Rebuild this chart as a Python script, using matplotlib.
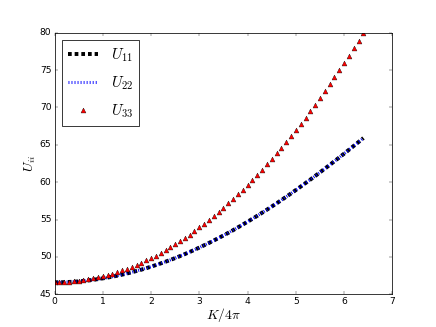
import matplotlib
matplotlib.use("Agg")
import matplotlib.pyplot as plt

plt.style.use("classic")
plt.rcParams["lines.scale_dashes"] = False

x = [round(0.1 * i, 1) for i in range(65)]

u11 = [46.60, 46.61, 46.62, 46.65, 46.68, 46.73, 46.79, 46.86, 46.94, 47.03,
       47.13, 47.24, 47.36, 47.49, 47.63, 47.78, 47.95, 48.12, 48.30, 48.49,
       48.70, 48.91, 49.13, 49.36, 49.60, 49.85, 50.11, 50.38, 50.66, 50.95,
       51.25, 51.56, 51.87, 52.20, 52.53, 52.87, 53.22, 53.58, 53.95, 54.33,
       54.71, 55.10, 55.50, 55.91, 56.32, 56.74, 57.17, 57.60, 58.05, 58.49,
       58.95, 59.41, 59.88, 60.35, 60.83, 61.32, 61.81, 62.30, 62.81, 63.31,
       63.82, 64.34, 64.86, 65.38, 65.91]
u22 = list(u11)
u33 = [46.60, 46.61, 46.63, 46.67, 46.73, 46.80, 46.89, 47.00, 47.12, 47.26,
       47.42, 47.59, 47.77, 47.98, 48.20, 48.43, 48.69, 48.96, 49.24, 49.54,
       49.86, 50.19, 50.54, 50.91, 51.29, 51.69, 52.11, 52.54, 52.99, 53.45,
       53.94, 54.43, 54.95, 55.48, 56.02, 56.58, 57.16, 57.76, 58.37, 59.00,
       59.64, 60.30, 60.98, 61.67, 62.38, 63.10, 63.85, 64.60, 65.38, 66.17,
       66.98, 67.80, 68.64, 69.49, 70.37, 71.25, 72.16, 73.08, 74.02, 74.97,
       75.94, 76.93, 77.93, 78.95, 79.98]

labels = [r"$U_{11}$", r"$U_{22}$", r"$U_{33}$"]

fig = plt.figure(figsize=(8, 6), dpi=54.5, facecolor="white")
ax = fig.add_subplot(111)
ax.plot(x, u11, color="black", linewidth=5.2, dashes=(4.9, 3.9), label=labels[0])
ax.plot(x, u22, color="blue", linewidth=4, dashes=(1.2, 2.8), label=labels[1])
ax.plot(x, u33, linestyle="none", marker="^", markersize=6.5, markerfacecolor="red",
        markeredgecolor="black", markeredgewidth=0.5, label=labels[2])

ax.set_xlim(0, 7)
ax.set_ylim(45, 80)
ax.set_xlabel(r"$K/4\pi$", fontsize=18, labelpad=0)
ax.set_ylabel(r"$U_{ii}$", fontsize=18, labelpad=2)
ax.legend(loc="upper left", numpoints=1, fontsize=20, labelspacing=0.7)

fig.savefig("out.png", dpi=54.5, facecolor="white")
